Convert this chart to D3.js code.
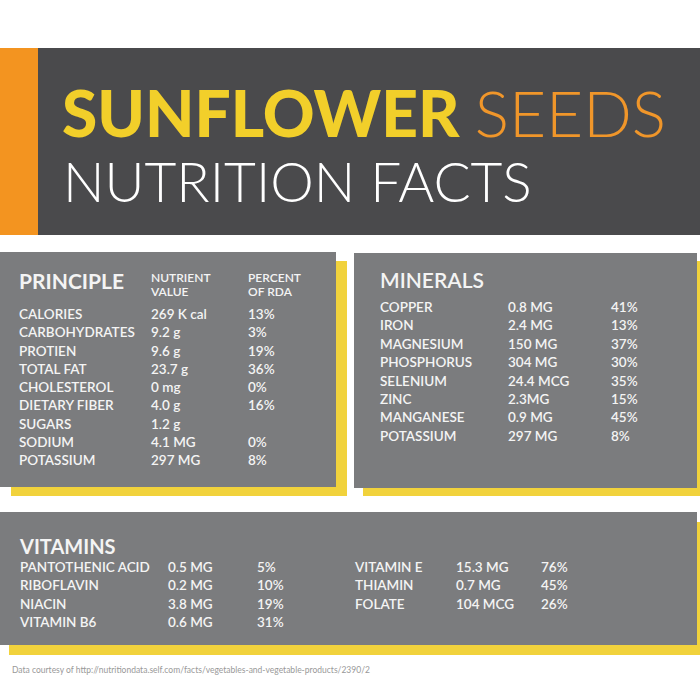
<!DOCTYPE html>
<html>
<head>
<script src="https://cdnjs.cloudflare.com/ajax/libs/d3/7.8.5/d3.min.js"></script>
<style>body{margin:0;background:#fff}</style>
</head>
<body>
<div id="chart"></div>
<script>
// data
const principleNames = ["CALORIES","CARBOHYDRATES","PROTIEN","TOTAL FAT","CHOLESTEROL","DIETARY FIBER","SUGARS","SODIUM","POTASSIUM"];
const principleValues = ["269 K cal","9.2 g","9.6 g","23.7 g","0 mg","4.0 g","1.2 g","4.1 MG","297 MG"];
const principleRda = ["13%","3%","19%","36%","0%","16%","","0%","8%"];
const mineralNames = ["COPPER","IRON","MAGNESIUM","PHOSPHORUS","SELENIUM","ZINC","MANGANESE","POTASSIUM"];
const mineralValues = ["0.8 MG","2.4 MG","150 MG","304 MG","24.4 MCG","2.3MG","0.9 MG","297 MG"];
const mineralRda = ["41%","13%","37%","30%","35%","15%","45%","8%"];
const vitaminNames = ["PANTOTHENIC ACID","RIBOFLAVIN","NIACIN","VITAMIN B6","VITAMIN E","THIAMIN","FOLATE"];
const vitaminValues = ["0.5 MG","0.2 MG","3.8 MG","0.6 MG","15.3 MG","0.7 MG","104 MCG"];
const vitaminRda = ["5%","10%","19%","31%","76%","45%","26%"];

const grey = "#7b7c7e", yellow = "#f1d23c", font = "Lato, 'Open Sans', sans-serif";
const svg = d3.select("#chart").append("svg").attr("width", 700).attr("height", 700)
  .style("font-family", font);

// header
svg.append("rect").attr("x", 0).attr("y", 48).attr("width", 700).attr("height", 187).attr("fill", "#4a4a4c");
svg.append("rect").attr("x", 0).attr("y", 48).attr("width", 38).attr("height", 187).attr("fill", "#f39420");
const t1 = svg.append("text").attr("x", 62).attr("y", 137).attr("font-size", 64);
t1.append("tspan").attr("fill", "#f2cf2a").attr("font-weight", 900).text("SUNFLOWER ");
t1.append("tspan").attr("fill", "#f0962a").attr("font-weight", 300).text("SEEDS");
svg.append("text").attr("x", 63).attr("y", 202).attr("font-size", 55).attr("font-weight", 300)
  .attr("fill", "#fff").text("NUTRITION FACTS");

function panel(x, y, w, h, dx, dy) {
  svg.append("rect").attr("x", x + dx).attr("y", y + dy).attr("width", w).attr("height", h).attr("fill", yellow);
  svg.append("rect").attr("x", x).attr("y", y).attr("width", w).attr("height", h).attr("fill", grey);
}
panel(0, 252, 336, 235, 11, 9);
panel(354, 253, 343, 235, 9, 8);
panel(0, 512, 697, 133, 9, 10);

function txt(x, y, s, size, weight) {
  svg.append("text").attr("x", x).attr("y", y).attr("font-size", size || 13.5)
    .attr("font-weight", weight || 600).attr("fill", "#f4f4f4").text(s);
}
function rows(names, vals, rda, xs, y0, step) {
  const y = d3.scaleLinear().domain([0, 1]).range([y0, y0 + step]);
  names.forEach((n, i) => {
    txt(xs[0], y(i), n); txt(xs[1], y(i), vals[i]); txt(xs[2], y(i), rda[i]);
  });
}

// principle
txt(19, 289, "PRINCIPLE", 21, 700);
txt(151, 282, "NUTRIENT", 12); txt(151, 296, "VALUE", 12);
txt(248, 282, "PERCENT", 12); txt(248, 296, "OF RDA", 12);
rows(principleNames, principleValues, principleRda, [19, 151, 248], 319, 18.25);

// minerals
txt(380, 288, "MINERALS", 21, 600);
rows(mineralNames, mineralValues, mineralRda, [380, 508, 611], 312, 18.4);

// vitamins
txt(20, 554, "VITAMINS", 20, 700);
rows(vitaminNames.slice(0, 4), vitaminValues.slice(0, 4), vitaminRda.slice(0, 4), [20, 168, 257], 572, 18.4);
rows(vitaminNames.slice(4), vitaminValues.slice(4), vitaminRda.slice(4), [355, 456, 541], 572, 18.4);

svg.append("text").attr("x", 12).attr("y", 673).attr("font-size", 8.5).attr("fill", "#999")
  .text("Data courtesy of http://nutritiondata.self.com/facts/vegetables-and-vegetable-products/2390/2");
</script>
</body>
</html>
